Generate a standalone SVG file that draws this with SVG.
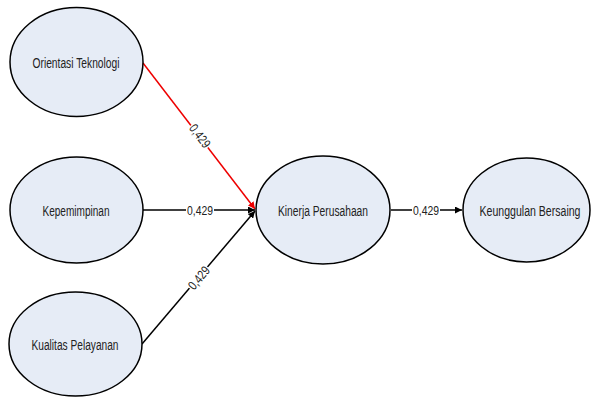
<svg xmlns="http://www.w3.org/2000/svg" width="591" height="397" viewBox="0 0 591 397">
<defs>
<style>
.node{fill:#e6ecf6;stroke:#000;stroke-width:1.5}
.t{font-family:"Liberation Sans",Arial,sans-serif;font-size:14px;fill:#222;text-anchor:middle}
.lb{font-family:"Liberation Sans",Arial,sans-serif;font-size:13px;fill:#222;text-anchor:middle}
.e{stroke:#000;stroke-width:1.5;fill:none}
.bg{fill:#fff}
</style>
<marker id="ab" viewBox="0 0 10 10" refX="10" refY="5" markerWidth="7" markerHeight="7" markerUnits="userSpaceOnUse" orient="auto"><path d="M0,0L10,5L0,10z" fill="#000"/></marker>
<marker id="ar" viewBox="0 0 10 10" refX="10" refY="5" markerWidth="7" markerHeight="7" markerUnits="userSpaceOnUse" orient="auto"><path d="M0,0L10,5L0,10z" fill="#e00"/></marker>
</defs>
<g id="connectors">
<line class="e" x1="143" y1="63" x2="255" y2="209" style="stroke:#e00" marker-end="url(#ar)"/>
<line class="e" x1="143" y1="210" x2="255" y2="210" marker-end="url(#ab)"/>
<line class="e" x1="142" y1="344" x2="255" y2="211" marker-end="url(#ab)"/>
<line class="e" x1="391" y1="210" x2="462" y2="210" marker-end="url(#ab)"/>
<g transform="translate(200,136) rotate(53)"><rect class="bg" x="-14" y="-6" width="28" height="12"/><text class="lb" y="4.5" textLength="26" lengthAdjust="spacingAndGlyphs">0,429</text></g>
<g transform="translate(200,210)"><rect class="bg" x="-14" y="-6" width="28" height="12"/><text class="lb" y="4.5" textLength="26" lengthAdjust="spacingAndGlyphs">0,429</text></g>
<g transform="translate(199,278) rotate(-50)"><rect class="bg" x="-14" y="-6" width="28" height="12"/><text class="lb" y="4.5" textLength="26" lengthAdjust="spacingAndGlyphs">0,429</text></g>
<g transform="translate(426,210)"><rect class="bg" x="-14" y="-6" width="28" height="12"/><text class="lb" y="4.5" textLength="26" lengthAdjust="spacingAndGlyphs">0,429</text></g>
</g>
<g id="orientasi"><ellipse class="node" cx="76.5" cy="62" rx="66.5" ry="54.5"/><text class="t" x="76" y="68" textLength="87" lengthAdjust="spacingAndGlyphs">Orientasi Teknologi</text></g>
<g id="kepemimpinan"><ellipse class="node" cx="76.5" cy="210" rx="66.5" ry="53"/><text class="t" x="76" y="216" textLength="67" lengthAdjust="spacingAndGlyphs">Kepemimpinan</text></g>
<g id="kualitas"><ellipse class="node" cx="75.5" cy="344" rx="66.5" ry="52"/><text class="t" x="75" y="350" textLength="87" lengthAdjust="spacingAndGlyphs">Kualitas Pelayanan</text></g>
<g id="kinerja"><ellipse class="node" cx="323" cy="210" rx="67" ry="54"/><text class="t" x="323" y="216" textLength="90" lengthAdjust="spacingAndGlyphs">Kinerja Perusahaan</text></g>
<g id="keunggulan"><ellipse class="node" cx="526.5" cy="210" rx="63.5" ry="52"/><text class="t" x="530" y="216" textLength="101" lengthAdjust="spacingAndGlyphs">Keunggulan Bersaing</text></g>
</svg>
